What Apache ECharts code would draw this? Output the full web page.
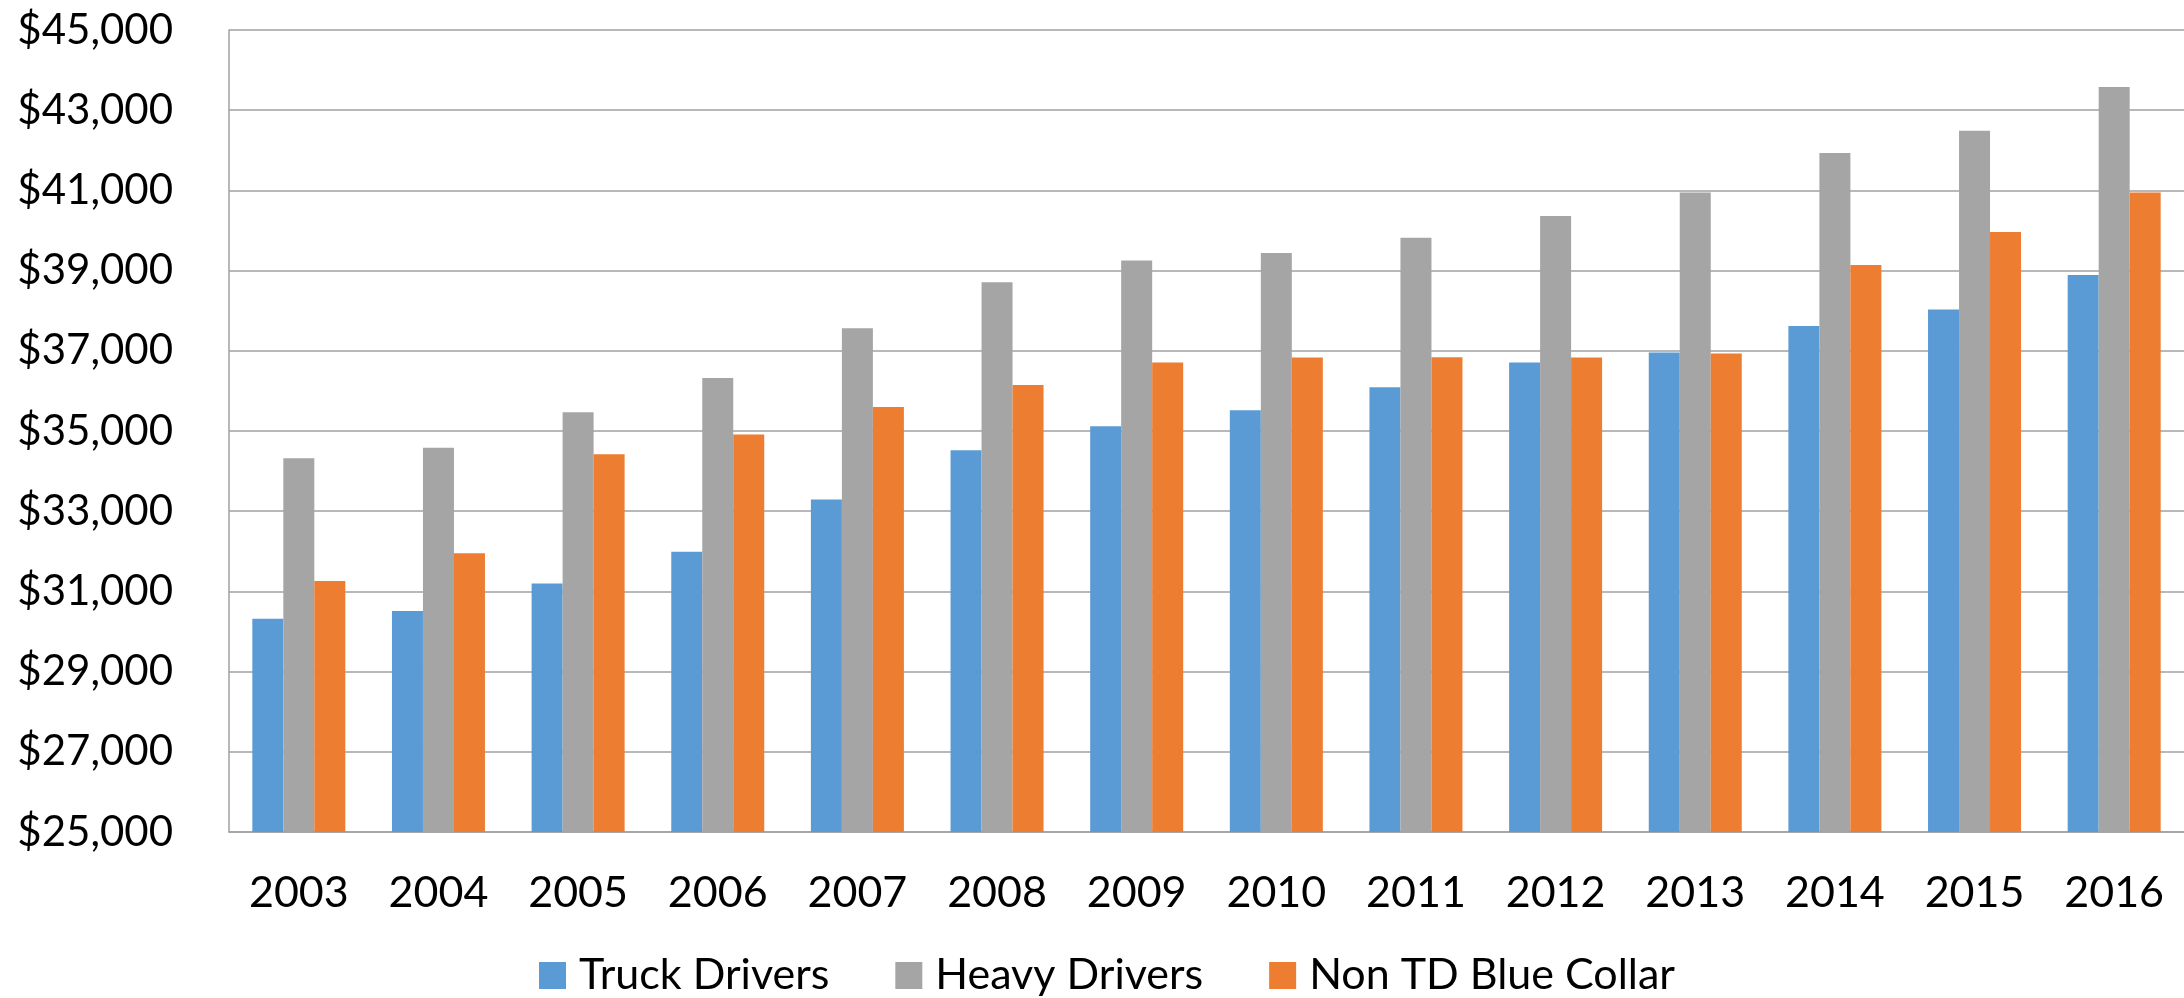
<!DOCTYPE html>
<html>
<head>
<meta charset="utf-8">
<script src="https://cdn.jsdelivr.net/npm/echarts@6/dist/echarts.min.js"></script>
<style>
html,body{margin:0;padding:0;background:#fff;}
#chart{width:2184px;height:998px;}
</style>
</head>
<body>
<div id="chart"></div>
<script>
const years = ['2003','2004','2005','2006','2007','2008','2009','2010','2011','2012','2013','2014','2015','2016'];
const truckDrivers = [30320, 30510, 31200, 31990, 33290, 34520, 35120, 35520, 36090, 36710, 36960, 37620, 38030, 38890];
const heavyDrivers = [34320, 34580, 35470, 36320, 37560, 38710, 39250, 39440, 39820, 40360, 40950, 41930, 42490, 43580];
const nonTDBlueCollar = [31260, 31950, 34420, 34910, 35600, 36150, 36710, 36830, 36840, 36830, 36930, 39140, 39960, 40950];
const seriesNames = ['Truck Drivers', 'Heavy Drivers', 'Non TD Blue Collar'];
const yMin = 25000, yMax = 45000, yStep = 2000;

const chart = echarts.init(document.getElementById('chart'), null, {renderer:'canvas'});
const font = 'Lato';
chart.setOption({
  animation: false,
  color: ['#5B9BD5', '#A5A5A5', '#ED7D31'],
  grid: {left: 229, top: 30, right: 0, bottom: 166, containLabel: false},
  legend: {
    data: seriesNames,
    left: 534, top: 949,
    itemWidth: 27, itemHeight: 27, itemGap: 66,
    icon: 'rect',
    textStyle: {fontFamily: font, fontSize: 43, color: '#000', padding: [0,0,0,8]}
  },
  xAxis: {
    type: 'category',
    data: years,
    axisLine: {show: true, lineStyle: {color: '#a0a0a0', width: 1.5}},
    axisTick: {show: false},
    axisLabel: {fontFamily: font, fontSize: 43, color: '#000', margin: 40}
  },
  yAxis: {
    type: 'value',
    min: yMin, max: yMax, interval: yStep,
    axisLine: {show: true, lineStyle: {color: '#a0a0a0', width: 1.5}},
    axisTick: {show: false},
    splitLine: {show: true, lineStyle: {color: '#a0a0a0', width: 1.5}},
    axisLabel: {
      fontFamily: font, fontSize: 42, color: '#000', margin: 56,
      formatter: v => '$' + v.toLocaleString('en-US')
    }
  },
  series: [
    {name: seriesNames[0], type: 'bar', data: truckDrivers, barWidth: 31, barGap: '0%'},
    {name: seriesNames[1], type: 'bar', data: heavyDrivers, barWidth: 31, barGap: '0%'},
    {name: seriesNames[2], type: 'bar', data: nonTDBlueCollar, barWidth: 31, barGap: '0%'}
  ]
});
</script>
</body>
</html>
